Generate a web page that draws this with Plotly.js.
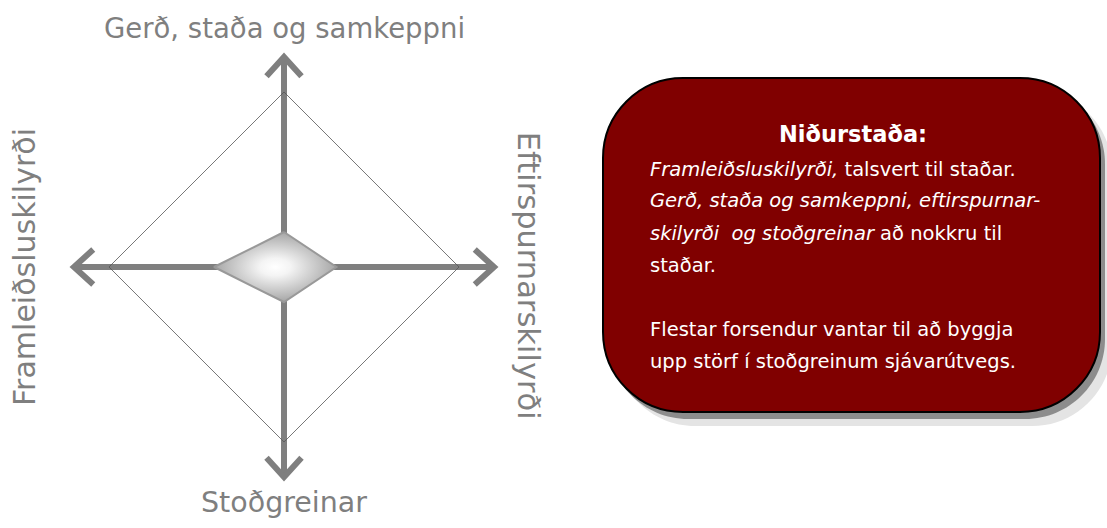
<!DOCTYPE html>
<html>
<head>
<meta charset="utf-8">
<script src="https://cdn.plot.ly/plotly-3.0.1.min.js"></script>
<style>
  html, body { margin: 0; padding: 0; background: #ffffff; }
  #chart { width: 1107px; height: 528px; }
</style>
</head>
<body>
<div id="chart"></div>
<script>
// --- data ---
// order: top, right, bottom, left
var axisNames = ['Gerð, staða og samkeppni', 'Eftirspurnarskilyrði', 'Stoðgreinar', 'Framleiðsluskilyrði'];
var scores = [1, 1.5, 1, 2];
var maxScore = 5;
var boxTitle = 'Niðurstaða:';
var boxLines = [
	'<i>Framleiðsluskilyrði,</i> talsvert til staðar.',
	'<i>Gerð, staða og samkeppni, eftirspurnar-</i>',
	'<i>skilyrði  og stoðgreinar</i> að nokkru til',
	'staðar.',
	'',
	'Flestar forsendur vantar til að byggja',
	'upp störf í stoðgreinum sjávarútvegs.'
];

var W = 1107, H = 528;
var dirs = [[0, 1], [1, 0], [0, -1], [-1, 0]];
var armLen = 6;
var grey = '#7f7f7f';

var traces = [];

// thick axis arms with open arrow heads
dirs.forEach(function (d) {
	var px = -d[1], py = d[0]; // perpendicular
	traces.push({
		type: 'scatter', mode: 'lines',
		x: [0, d[0] * armLen], y: [0, d[1] * armLen],
		line: {color: grey, width: 6}, hoverinfo: 'skip'
	});
	var back = armLen - 0.55;
	traces.push({
		type: 'scatter', mode: 'lines',
		x: [d[0] * back + px * 0.5, d[0] * armLen, d[0] * back - px * 0.5],
		y: [d[1] * back + py * 0.5, d[1] * armLen, d[1] * back - py * 0.5],
		line: {color: grey, width: 6}, hoverinfo: 'skip'
	});
});

// outer diamond (max score)
var ox = [], oy = [];
dirs.concat([dirs[0]]).forEach(function (d) { ox.push(d[0] * maxScore); oy.push(d[1] * maxScore); });
traces.push({
	type: 'scatter', mode: 'lines', x: ox, y: oy,
	line: {color: '#555555', width: 0.8}, hoverinfo: 'skip'
});

// inner diamond (scores)
var sx = [], sy = [];
dirs.forEach(function (d, i) { sx.push(d[0] * scores[i]); sy.push(d[1] * scores[i]); });
sx.push(sx[0]); sy.push(sy[0]);
traces.push({
	type: 'scatter', mode: 'lines', x: sx, y: sy,
	fill: 'toself',
	fillgradient: {type: 'radial', colorscale: [[0, '#ffffff'], [0.25, '#f4f4f4'], [1, '#a6a6a6']]},
	line: {color: '#999999', width: 2}, hoverinfo: 'skip'
});

// rounded box path in paper coords
function p(x, y) { return (x / W).toFixed(5) + ',' + (1 - y / H).toFixed(5); }
function roundRect(x0, y0, x1, y1, r) {
	var k = r * 0.5523;
	return 'M' + p(x0 + r, y0) + ' L' + p(x1 - r, y0) +
		' C' + p(x1 - r + k, y0) + ' ' + p(x1, y0 + r - k) + ' ' + p(x1, y0 + r) +
		' L' + p(x1, y1 - r) +
		' C' + p(x1, y1 - r + k) + ' ' + p(x1 - r + k, y1) + ' ' + p(x1 - r, y1) +
		' L' + p(x0 + r, y1) +
		' C' + p(x0 + r - k, y1) + ' ' + p(x0, y1 - r + k) + ' ' + p(x0, y1 - r) +
		' L' + p(x0, y0 + r) +
		' C' + p(x0, y0 + r - k) + ' ' + p(x0 + r - k, y0) + ' ' + p(x0 + r, y0) + ' Z';
}
var bx0 = 603, by0 = 78, bx1 = 1100, by1 = 412, br = 80;
var shapes = [
	{type: 'path', xref: 'paper', yref: 'paper', path: roundRect(bx0 + 12, by0 + 12, bx1 + 12, by1 + 14, br),
		fillcolor: '#e4e4e4', line: {width: 0}},
	{type: 'path', xref: 'paper', yref: 'paper', path: roundRect(bx0 + 5, by0 + 6, bx1 + 5, by1 + 7, br),
		fillcolor: '#8c8c8c', line: {width: 0}},
	{type: 'path', xref: 'paper', yref: 'paper', path: roundRect(bx0, by0, bx1, by1, br),
		fillcolor: '#800000', line: {color: '#000000', width: 2}}
];

var annotations = [
	{x: 0, y: 6.83, text: axisNames[0], textangle: 0, size: 27.5},
	{x: 6.97, y: -0.25, text: axisNames[1], textangle: 90, size: 30.5},
	{x: 0, y: -6.74, text: axisNames[2], textangle: 0, size: 28.5},
	{x: -7.43, y: 0, text: axisNames[3], textangle: -90, size: 30}
].map(function (a) {
	return {xref: 'x', yref: 'y', x: a.x, y: a.y, text: a.text, textangle: a.textangle,
		showarrow: false, font: {family: 'DejaVu Sans', size: a.size, color: grey},
		xanchor: 'center', yanchor: 'middle'};
});

var boxFont = {family: 'DejaVu Sans', size: 19.5, color: '#ffffff'};
annotations.push({xref: 'paper', yref: 'paper', x: 853 / W, y: 1 - 134 / H,
	text: '<b>' + boxTitle + '</b>', showarrow: false, font: {family: 'DejaVu Sans', size: 22.5, color: '#ffffff'},
	xanchor: 'center', yanchor: 'middle'});
var lineY = [169, 201, 233, 265, 297, 329, 361];
boxLines.forEach(function (t, i) {
	if (!t) return;
	annotations.push({xref: 'paper', yref: 'paper', x: 648 / W, y: 1 - lineY[i] / H,
		text: t, showarrow: false, font: boxFont, xanchor: 'left', yanchor: 'middle'});
});

var layout = {
	width: W, height: H,
	margin: {l: 0, r: 0, t: 0, b: 0},
	paper_bgcolor: '#ffffff', plot_bgcolor: '#ffffff',
	showlegend: false, hovermode: false,
	xaxis: {visible: false, domain: [0, 568 / W], range: [-8.114, 8.114], fixedrange: true},
	yaxis: {visible: false, domain: [0, 1], range: [-7.457, 7.629], fixedrange: true},
	shapes: shapes,
	annotations: annotations
};

Plotly.newPlot('chart', traces, layout, {displayModeBar: false, staticPlot: true});
</script>
</body>
</html>
